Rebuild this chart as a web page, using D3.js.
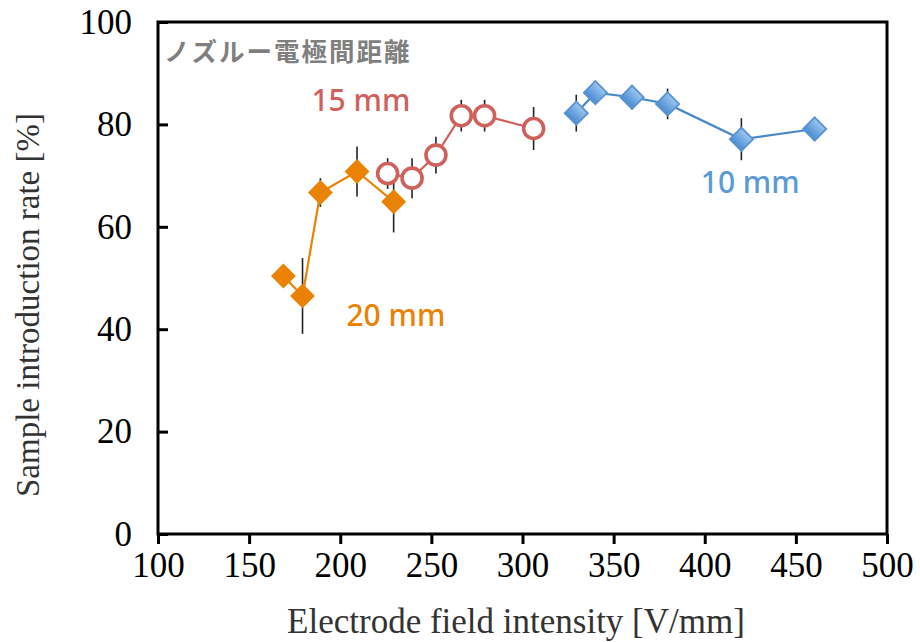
<!DOCTYPE html>
<html>
<head>
<meta charset="utf-8">
<script src="https://cdn.jsdelivr.net/npm/d3@7"></script>
<style>
  html, body { margin: 0; padding: 0; background: #fff; }
  svg { display: block; }
</style>
</head>
<body>
<svg id="chart" width="920" height="642"></svg>
<script>
// Electrode field intensity [V/mm] and sample introduction rate [%] per nozzle–electrode gap
const field20 = [168.8, 179.3, 189.1, 209.2, 229.3];
const rate20  = [50.4, 46.5, 66.7, 70.8, 64.9];
const err20   = [2.0, 7.4, 2.8, 4.9, 6.0];

const field15 = [226.0, 239.4, 252.5, 266.4, 279.2, 306.1];
const rate15  = [70.4, 69.5, 74.0, 81.7, 81.7, 79.2];
const err15   = [3.0, 3.9, 3.6, 3.1, 3.1, 4.2];

const field10 = [329.5, 340.0, 360.1, 379.6, 420.1, 460.3];
const rate10  = [82.2, 86.2, 85.3, 84.0, 77.1, 79.1];
const err10   = [3.6, 1.5, 2.4, 3.0, 4.1, 1.5];

const xTicks = [100, 150, 200, 250, 300, 350, 400, 450, 500];
const yTicks = [0, 20, 40, 60, 80, 100];

const svg = d3.select("#chart");
const m = { left: 158, right: 887, top: 22, bottom: 534 };

const x = d3.scaleLinear().domain([100, 500]).range([m.left, m.right]);
const y = d3.scaleLinear().domain([0, 100]).range([m.bottom, m.top]);

const serif = "'Liberation Serif', 'Times New Roman', serif";

// gradient for the 10 mm diamonds
const defs = svg.append("defs");
const grad = defs.append("linearGradient").attr("id", "blueFill")
  .attr("x1", 0).attr("y1", 0).attr("x2", 0).attr("y2", 1);
grad.append("stop").attr("offset", "0%").attr("stop-color", "#9cc6f0");
grad.append("stop").attr("offset", "100%").attr("stop-color", "#4a8bd0");

// axes
const xAxis = svg.append("g").attr("transform", `translate(0,${m.bottom})`)
  .call(d3.axisBottom(x).tickValues(xTicks).tickSize(10).tickPadding(7).tickFormat(d3.format("d")));
const yAxis = svg.append("g").attr("transform", `translate(${m.left},0)`)
  .call(d3.axisLeft(y).tickValues(yTicks).tickSize(-10).tickPadding(26).tickFormat(d3.format("d")));

[xAxis, yAxis].forEach(a => {
  a.select(".domain").remove();
  a.selectAll(".tick line").attr("stroke", "#000").attr("stroke-width", 3);
  a.selectAll(".tick text").attr("fill", "#000")
    .style("font-family", serif).style("font-size", "35px");
});
xAxis.selectAll(".tick text").attr("dy", "0.75em");

// plot frame
svg.append("rect")
  .attr("x", m.left).attr("y", m.top)
  .attr("width", m.right - m.left).attr("height", m.bottom - m.top)
  .attr("fill", "none").attr("stroke", "#000").attr("stroke-width", 3);

// axis titles
svg.append("text")
  .attr("x", 516).attr("y", 633)
  .attr("text-anchor", "middle").attr("fill", "#333")
  .style("font-family", serif).style("font-size", "35px")
  .text("Electrode field intensity [V/mm]");
svg.append("text")
  .attr("transform", `translate(39,305) rotate(-90)`)
  .attr("text-anchor", "middle").attr("fill", "#333")
  .style("font-family", serif).style("font-size", "33px")
  .text("Sample introduction rate [%]");

function series(xs, ys, es, color, marker) {
  const pts = xs.map((v, i) => ({ x: v, y: ys[i], e: es[i] }));
  const g = svg.append("g");
  g.append("path").datum(pts)
    .attr("fill", "none").attr("stroke", color.line).attr("stroke-width", 2.2)
    .attr("d", d3.line().x(d => x(d.x)).y(d => y(d.y)));
  g.selectAll(".err").data(pts).join("line")
    .attr("x1", d => x(d.x)).attr("x2", d => x(d.x))
    .attr("y1", d => y(d.y + d.e)).attr("y2", d => y(d.y - d.e))
    .attr("stroke", "#222").attr("stroke-width", 1.6);
  if (marker === "circle") {
    g.selectAll(".mk").data(pts).join("circle")
      .attr("cx", d => x(d.x)).attr("cy", d => y(d.y)).attr("r", 10)
      .attr("fill", "#fff").attr("stroke", color.marker).attr("stroke-width", 3.6);
  } else {
    const sym = d3.symbol().type(d3.symbolSquare).size(marker === "blue" ? 270 : 310);
    g.selectAll(".mk").data(pts).join("path")
      .attr("transform", d => `translate(${x(d.x)},${y(d.y)}) rotate(45)`)
      .attr("d", sym)
      .attr("fill", color.fill)
      .attr("stroke", color.stroke).attr("stroke-width", marker === "blue" ? 1.8 : 0);
  }
}

series(field20, rate20, err20, { line: "#ea8206", fill: "#ea8206", stroke: "none" }, "diamond");
series(field15, rate15, err15, { line: "#d0605c", marker: "#d0605c" }, "circle");
series(field10, rate10, err10, { line: "#4a89c8", fill: "url(#blueFill)", stroke: "#5a93cf" }, "blue");

// annotations
const sans = "'Noto Sans', 'Noto Sans CJK JP', sans-serif";
svg.append("text").attr("x", 164).attr("y", 61)
  .attr("fill", "#7f7f7f")
  .style("font-family", "'Noto Sans CJK JP', sans-serif").style("font-size", "25.5px")
  .style("font-weight", "bold").style("letter-spacing", "2px")
  .text("ノズルー電極間距離");
svg.append("text").attr("x", x(184.2)).attr("y", 111)
  .attr("fill", "#d0605c").style("font-family", sans).style("font-size", "30px")
  .style("font-weight", 500).text("15 mm");
svg.append("text").attr("x", x(203.4)).attr("y", 326)
  .attr("fill", "#ea8206").style("font-family", sans).style("font-size", "30px")
  .style("font-weight", 500).text("20 mm");
svg.append("text").attr("x", x(397.8)).attr("y", 193)
  .attr("fill", "#5b9bd5").style("font-family", sans).style("font-size", "30px")
  .style("font-weight", 500).text("10 mm");
</script>
</body>
</html>
